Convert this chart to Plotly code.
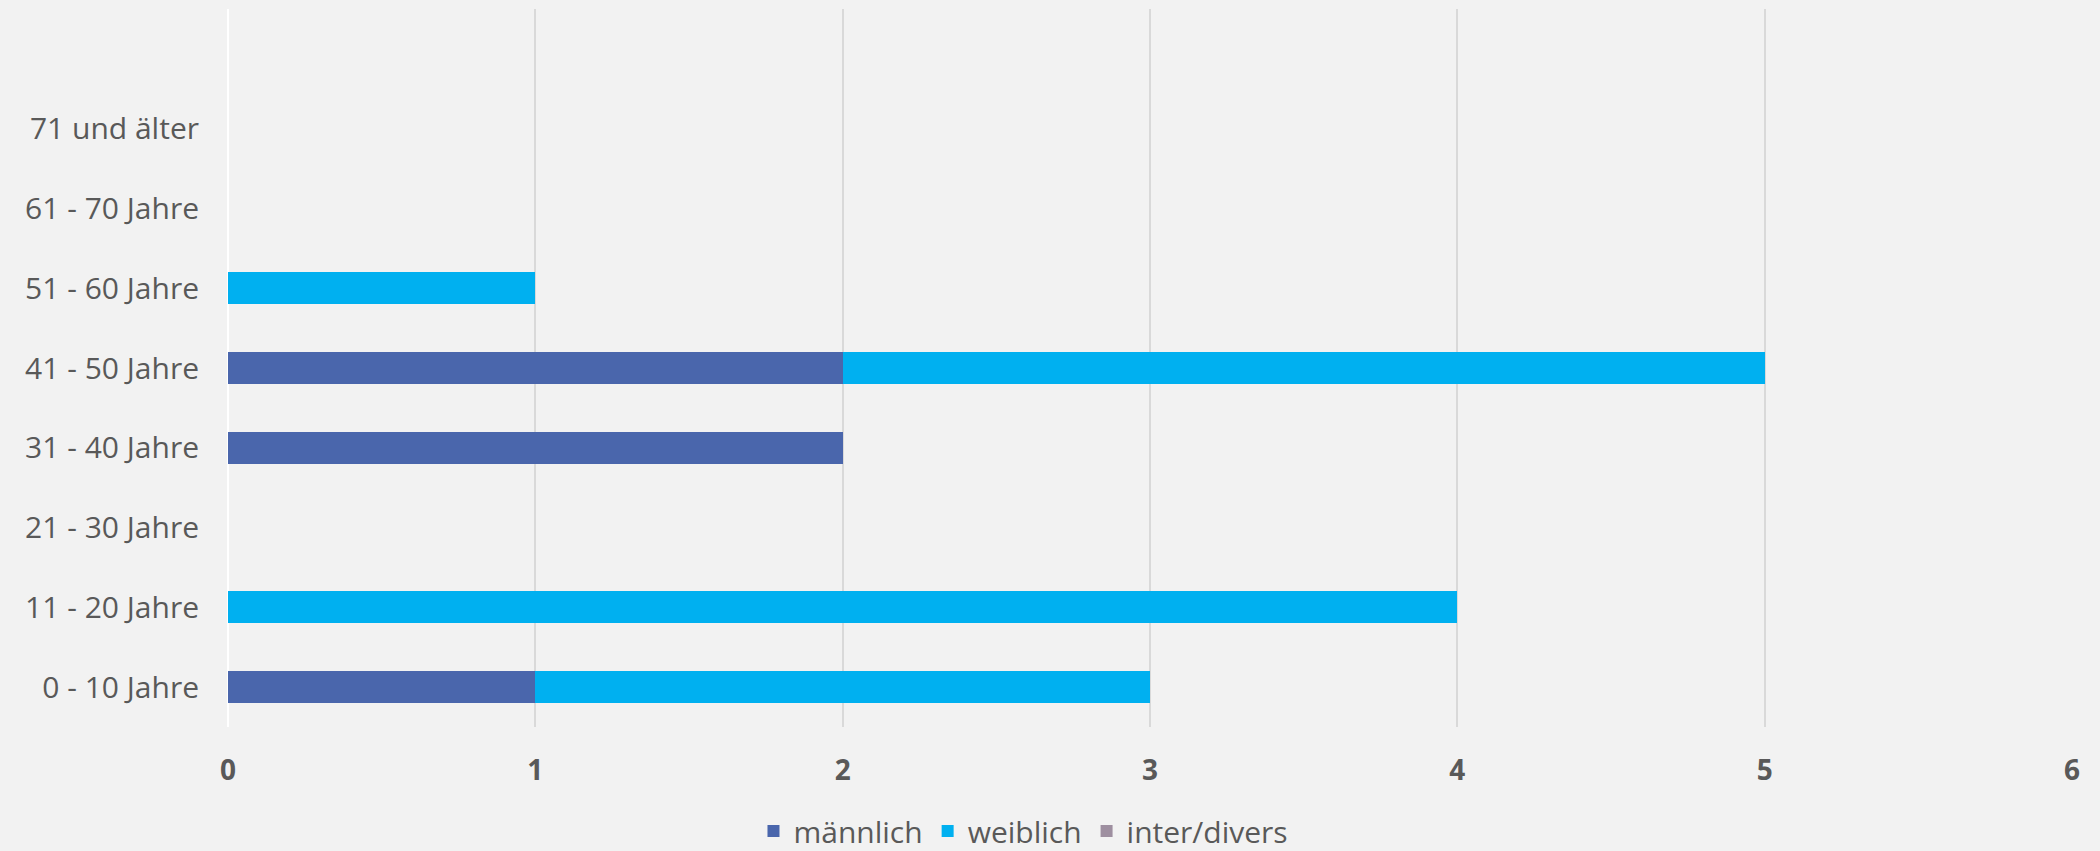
import plotly.graph_objects as go

categories = ["0 - 10 Jahre", "11 - 20 Jahre", "21 - 30 Jahre", "31 - 40 Jahre",
              "41 - 50 Jahre", "51 - 60 Jahre", "61 - 70 Jahre", "71 und älter"]
maennlich = [1, 0, 0, 2, 2, 0, 0, 0]
weiblich = [2, 4, 0, 0, 3, 1, 0, 0]
inter_divers = [0, 0, 0, 0, 0, 0, 0, 0]
x_ticks = [0, 1, 2, 3, 4, 5, 6]

series = [
    ("männlich", maennlich, "#4A66AC"),
    ("weiblich", weiblich, "#00B0F0"),
    ("inter/divers", inter_divers, "#9E8FA0"),
]

fig = go.Figure()
for name, vals, color in series:
    fig.add_trace(go.Bar(
        y=categories, x=vals, name=name, orientation="h",
        marker=dict(color=color, line=dict(width=0)),
    ))

font_family = "Open Sans"
fig.update_layout(
    width=2100, height=851,
    barmode="stack", bargap=0.6,
    paper_bgcolor="#F2F2F2", plot_bgcolor="#F2F2F2",
    margin=dict(l=228, r=28, t=9, b=124),
    font=dict(family=font_family, color="#595959"),
    legend=dict(orientation="h", xref="container", yref="container",
                x=0.3588, xanchor="left", y=0.0235, yanchor="middle",
                font=dict(size=30, color="#595959"), traceorder="normal",
                bgcolor="rgba(0,0,0,0)"),
    xaxis=dict(range=[0, 6], tickvals=x_ticks, showgrid=True, gridcolor="#D9D9D9",
               gridwidth=2, zeroline=True, zerolinecolor="#FFFFFF", zerolinewidth=2,
               showline=False, ticks="",
               tickfont=dict(size=28, color="#595959", family=font_family, weight="bold"),
               ticklabelstandoff=24),
    yaxis=dict(type="category", categoryorder="array", categoryarray=categories,
               range=[-0.5, 8.5], showgrid=False, zeroline=False, showline=False, ticks="",
               tickfont=dict(size=30, color="#595959"), ticklabelstandoff=28),
)

fig.write_html("out.html", config={"displayModeBar": False},
               post_script="document.body.style.margin='0';document.body.style.overflow='hidden';")
